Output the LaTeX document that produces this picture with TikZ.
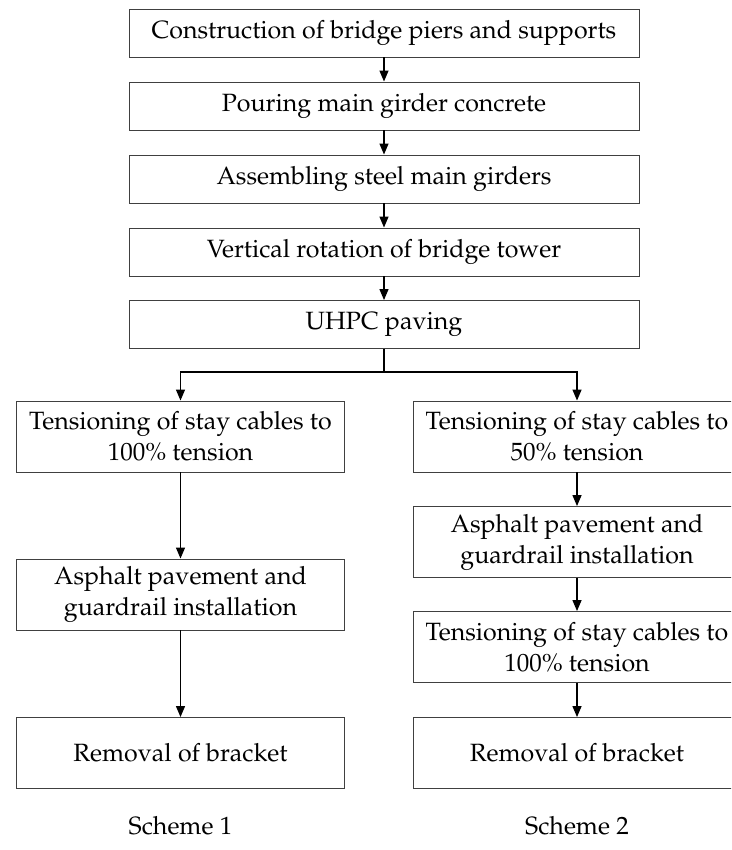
\documentclass[tikz,border=0pt]{standalone}
\usepackage[T1]{fontenc}
\usepackage{mathpazo}
\usepackage{tikz}
\usetikzlibrary{positioning,calc,arrows.meta}

\tikzset{
  stepBox/.style={rectangle, draw=black!75, line width=0.9pt, inner sep=0pt, align=center,
                  font=\fontsize{25}{31}\selectfont},
  wideBox/.style={stepBox, minimum width=510pt, minimum height=48pt},
  colBox/.style={stepBox, minimum width=328pt, minimum height=71pt},
  flowArrow/.style={line width=1.3pt, -{Triangle[length=11pt,width=9pt]}}
}

\begin{document}
\begin{tikzpicture}[x=1pt, y=-1pt]

\clip (0,0) rectangle (731,850);
\useasboundingbox (0,0) rectangle (731,850);

% Common steps

\node[wideBox] (StepNode0) at (384,33)    {Construction of bridge piers and supports};
\node[wideBox] (StepNode1) at (384,106)   {Pouring main girder concrete};
\node[wideBox] (StepNode2) at (384,179)   {Assembling steel main girders};
\node[wideBox] (StepNode3) at (384,252)   {Vertical rotation of bridge tower};
\node[wideBox] (StepNode4) at (384,324.5) {UHPC paving};

\coordinate (splitNode) at (384,372);

% Scheme 1

\node[colBox] (SchemeOneNode0) at (180.5,436.5) {Tensioning of stay cables to\\100\% tension};
\node[colBox] (SchemeOneNode1) at (180.5,594.5) {Asphalt pavement and\\guardrail installation};
\node[colBox] (SchemeOneNode2) at (180.5,753)   {Removal of bracket};

\node[font=\fontsize{25}{30}\selectfont] (labelSchemeOne) at (180.5,826) {Scheme 1};

% Scheme 2

\node[colBox] (SchemeTwoNode0) at (577,436.5) {Tensioning of stay cables to\\50\% tension};
\node[colBox] (SchemeTwoNode1) at (577,542)   {Asphalt pavement and\\guardrail installation};
\node[colBox] (SchemeTwoNode2) at (577,647)   {Tensioning of stay cables to\\100\% tension};
\node[colBox] (SchemeTwoNode3) at (577,753)   {Removal of bracket};

\node[font=\fontsize{25}{30}\selectfont] (labelSchemeTwo) at (577,826) {Scheme 2};

% Common rows...

\draw[flowArrow] (StepNode0) -- (StepNode1);
\draw[flowArrow] (StepNode1) -- (StepNode2);
\draw[flowArrow] (StepNode2) -- (StepNode3);
\draw[flowArrow] (StepNode3) -- (StepNode4);

% Split

\draw[line width=1.3pt] (StepNode4) -- (splitNode);
\draw[flowArrow] (splitNode) -| (SchemeOneNode0);
\draw[flowArrow] (splitNode) -| (SchemeTwoNode0);

% Scheme 1 rows...

\draw[flowArrow] (SchemeOneNode0) -- (SchemeOneNode1);
\draw[flowArrow] (SchemeOneNode1) -- (SchemeOneNode2);

% Scheme 2 rows...

\draw[flowArrow] (SchemeTwoNode0) -- (SchemeTwoNode1);
\draw[flowArrow] (SchemeTwoNode1) -- (SchemeTwoNode2);
\draw[flowArrow] (SchemeTwoNode2) -- (SchemeTwoNode3);

\end{tikzpicture}
\end{document}
